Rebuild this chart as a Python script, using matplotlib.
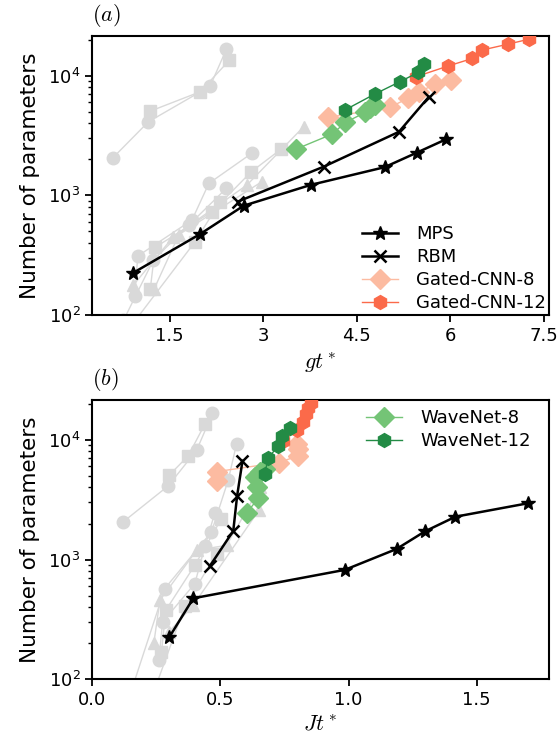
import matplotlib
matplotlib.use("Agg")
import matplotlib.pyplot as plt

plt.rcParams['mathtext.fontset'] = 'cm'
plt.rcParams['font.family'] = ['DejaVu Sans']
plt.rcParams['axes.linewidth'] = 1.5

# ---------------- data ----------------
params_mps = [224, 475, 820, 1225, 1720, 2280, 2950]
gt_mps = [0.91, 1.99, 2.69, 3.77, 4.95, 5.47, 5.94]
jt_mps = [0.30, 0.394, 0.985, 1.187, 1.298, 1.417, 1.699]

params_rbm = [885, 1734, 3397, 6668]
gt_rbm = [2.59, 3.97, 5.18, 5.66]
jt_rbm = [0.459, 0.550, 0.565, 0.586]

params_gcnn8 = [4487, 5435, 6458, 7340, 8460, 9180]
gt_gcnn8 = [4.04, 5.03, 5.32, 5.50, 5.76, 6.01]
jt_gcnn8 = [0.488, 0.488, 0.727, 0.803, 0.803, 0.797]

params_gcnn12 = [9800, 12020, 13960, 16380, 18370, 20240]
gt_gcnn12 = [5.45, 5.96, 6.36, 6.51, 6.93, 7.27]
jt_gcnn12 = [0.745, 0.797, 0.822, 0.835, 0.842, 0.852]

params_wn8 = [2437, 3254, 4071, 4935, 5356, 5714]
gt_wn8 = [3.53, 4.11, 4.32, 4.64, 4.72, 4.80]
jt_wn8 = [0.602, 0.647, 0.641, 0.634, 0.655, 0.675]

params_wn12 = [5160, 7020, 8890, 10660, 12500]
gt_wn12 = [4.31, 4.79, 5.19, 5.49, 5.58]
jt_wn12 = [0.673, 0.686, 0.725, 0.740, 0.770]

# grey reference curves (top panel: gt*, bottom panel: Jt*)
grey_top = [
    ('o', [0.59, 1.16, 2.15, 2.41], [2060, 4120, 8180, 16600]),
    ('s', [1.19, 1.99, 2.46], [5060, 7340, 13490]),
    ('o', [0.94, 0.99, 1.86, 2.13, 2.83], [144, 311, 622, 1259, 2270]),
    ('o', [0.76, 1.24, 1.81, 2.41], [90, 288, 565, 1143]),
    ('s', [1.19, 1.27, 2.18, 2.81, 3.29], [164, 368, 730, 1574, 2437]),
    ('s', [0.95, 1.91, 2.31], [90, 410, 885]),
    ('^', [0.92, 1.56, 2.74, 3.65], [178, 451, 1219, 3740]),
    ('^', [1.25, 1.65, 2.98], [164, 470, 1300]),
]
grey_bot = [
    ('o', [0.12, 0.296, 0.407, 0.469], [2060, 4120, 8180, 16600]),
    ('s', [0.30, 0.374, 0.439], [5060, 7340, 13490]),
    ('o', [0.26, 0.274, 0.40, 0.44, 0.478], [145, 300, 630, 1300, 2450]),
    ('o', [0.16, 0.283, 0.465, 0.53, 0.563], [90, 573, 1700, 4580, 9260]),
    ('s', [0.27, 0.287, 0.40, 0.504], [170, 378, 897, 2196]),
    ('s', [0.25, 0.361, 0.485], [90, 408, 1122]),
    ('^', [0.24, 0.264, 0.407, 0.524, 0.654], [200, 457, 1197, 1315, 4030]),
    ('^', [0.30, 0.394, 0.65], [250, 416, 2577]),
]

labels = ['MPS', 'RBM', 'Gated-CNN-8', 'Gated-CNN-12', 'WaveNet-8', 'WaveNet-12']
grey = '#d9d9d9'
c_g8, c_g12 = '#fcbba1', '#fb6a4a'
c_w8, c_w12 = '#74c476', '#238b45'

fig = plt.figure(figsize=(5.58, 7.42), dpi=100)
ax1 = fig.add_axes([0.1654, 0.5755, 0.8176, 0.3760])
ax2 = fig.add_axes([0.1654, 0.0845, 0.8176, 0.3764])


def draw(ax, xs_list, grey_list):
    x_m, x_r, x_8, x_12, x_w8, x_w12 = xs_list
    for mk, xs, ys in grey_list:
        ax.plot(xs, ys, color=grey, marker=mk, ms=9, lw=1, zorder=1)
    h8, = ax.plot(x_8, params_gcnn8, color=c_g8, marker='D', ms=10, lw=1, zorder=2)
    h12, = ax.plot(x_12, params_gcnn12, color=c_g12, marker='h', ms=10, lw=1, zorder=3)
    hw8, = ax.plot(x_w8, params_wn8, color=c_w8, marker='D', ms=10, lw=1, zorder=4)
    hw12, = ax.plot(x_w12, params_wn12, color=c_w12, marker='h', ms=10, lw=1, zorder=5)
    hm, = ax.plot(x_m, params_mps, color='black', marker='*', ms=10, lw=1.8, zorder=6)
    hr, = ax.plot(x_r, params_rbm, color='black', marker='x', ms=9, mew=1.8, lw=1.8, zorder=6)
    ax.set_yscale('log')
    ax.set_ylim(100, 2.15e4)
    ax.tick_params(labelsize=13, width=1.3, length=5)
    ax.tick_params(which='minor', width=1.0, length=3)
    ax.set_ylabel('Number of parameters', fontsize=15.5, labelpad=6)
    return [hm, hr, h8, h12, hw8, hw12]


hs = draw(ax1, [gt_mps, gt_rbm, gt_gcnn8, gt_gcnn12, gt_wn8, gt_wn12], grey_top)
ax1.set_xlim(0.26, 7.58)
ax1.set_xticks([1.5, 3, 4.5, 6, 7.5])
ax1.set_xticklabels(['1.5', '3', '4.5', '6', '7.5'])
ax1.set_xlabel(r'$gt^*$', fontsize=16)
ax1.legend(hs[:4], labels[:4], loc='lower left', bbox_to_anchor=(0.585, 0.0),
           frameon=False, fontsize=13, borderaxespad=0.0, borderpad=0.15,
           handletextpad=1.0, labelspacing=0.28)
ax1.text(0.0, 1.025, r'$(a)$', transform=ax1.transAxes, fontsize=16, ha='left', va='bottom')

hs2 = draw(ax2, [jt_mps, jt_rbm, jt_gcnn8, jt_gcnn12, jt_wn8, jt_wn12], grey_bot)
ax2.set_xlim(0.0, 1.78)
ax2.set_xticks([0.0, 0.5, 1.0, 1.5])
ax2.set_xlabel(r'$Jt^*$', fontsize=16)
ax2.legend(hs2[4:], labels[4:], loc='upper left', bbox_to_anchor=(0.58, 1.0),
           frameon=False, fontsize=13, borderaxespad=0.0, borderpad=0.5,
           handletextpad=1.0, labelspacing=0.28)
ax2.text(0.0, 1.025, r'$(b)$', transform=ax2.transAxes, fontsize=16, ha='left', va='bottom')

fig.savefig('out.png', dpi=100)
